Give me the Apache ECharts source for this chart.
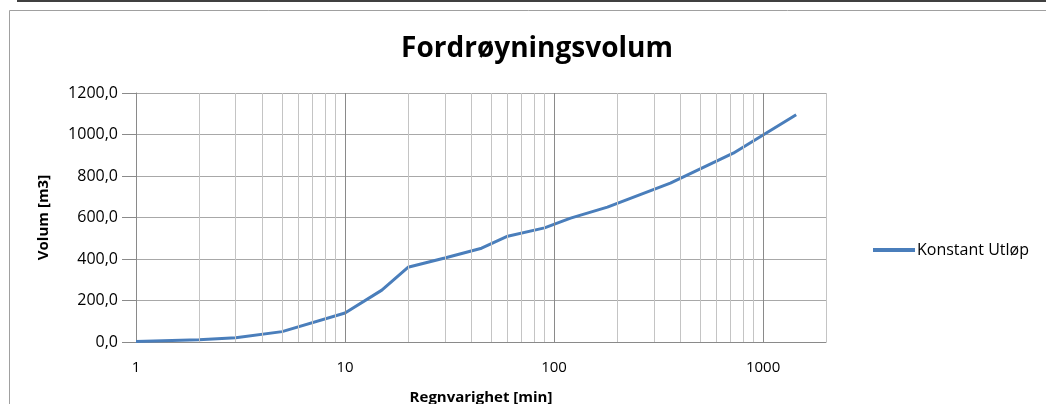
<!DOCTYPE html>
<html>
<head>
<meta charset="utf-8">
<script src="https://cdn.jsdelivr.net/npm/echarts@6/dist/echarts.min.js"></script>
<style>
html,body{margin:0;padding:0;background:#fff;}
#c{width:1046px;height:404px;}
</style>
</head>
<body>
<div id="c"></div>
<script>
const titleText = 'Fordrøyningsvolum';
const seriesName = 'Konstant Utløp';
const xAxisName = 'Regnvarighet [min]';
const yAxisName = 'Volum [m3]';
const durations = [1, 2, 3, 5, 10, 15, 20, 30, 45, 60, 90, 120, 180, 360, 720, 1440];
const volumes   = [3, 11, 21, 50, 140, 250, 360, 405, 452, 510, 550, 597, 650, 766, 910, 1095];
const xMajorTicks = [1, 10, 100, 1000];
const xMinorGrid = [2,3,4,5,6,7,8,9,20,30,40,50,60,70,80,90,200,300,400,500,600,700,800,900,2000];
const yMin = 0, yMax = 1200, yStep = 200;
const xMin = 1, xMax = 2000;

const font = '"Open Sans", "Noto Sans", sans-serif';
const chart = echarts.init(document.getElementById('c'), null, {renderer: 'canvas'});

const gridLines = [];
xMinorGrid.forEach(v => gridLines.push({xAxis: v, lineStyle: {color: '#c4c4c4', width: 1, type: 'solid'}}));
xMajorTicks.slice(1).forEach(v => gridLines.push({xAxis: v, lineStyle: {color: '#8a8a8a', width: 1, type: 'solid'}}));

chart.setOption({
  animation: false,
  backgroundColor: '#ffffff',
  textStyle: {fontFamily: font},
  title: {
    text: titleText,
    left: 532, top: 30, textAlign: 'center',
    textStyle: {fontFamily: font, fontSize: 28, fontWeight: 'bold', color: '#000'}
  },
  legend: {
    left: 873, top: 242, orient: 'vertical', padding: 0,
    icon: 'rect', itemWidth: 42, itemHeight: 4,
    textStyle: {fontFamily: font, fontSize: 16, color: '#000', padding: [0, 0, 0, -3]},
    data: [seriesName]
  },
  grid: {left: 136, right: 220, top: 93, bottom: 62, containLabel: false, outerBoundsMode: 'none'},
  xAxis: {
    type: 'log', logBase: 10, min: xMin, max: xMax,
    name: xAxisName, nameLocation: 'middle', nameGap: 48,
    nameTextStyle: {fontFamily: font, fontSize: 15, fontWeight: 'bold', color: '#000'},
    axisLine: {show: true, lineStyle: {color: '#8a8a8a', width: 1}},
    axisTick: {show: false},
    splitLine: {show: false},
    axisLabel: {
      fontFamily: font, fontSize: 15, color: '#000', margin: 18,
      formatter: v => { const r = Math.round(v); return xMajorTicks.includes(r) ? String(r) : ''; }
    }
  },
  yAxis: {
    type: 'value', min: yMin, max: yMax, interval: yStep,
    name: yAxisName, nameLocation: 'middle', nameGap: 85,
    nameTextStyle: {fontFamily: font, fontSize: 15, fontWeight: 'bold', color: '#000'},
    axisLine: {show: true, lineStyle: {color: '#8a8a8a', width: 1}},
    axisTick: {show: true, length: 14, lineStyle: {color: '#8a8a8a'}},
    splitLine: {show: true, lineStyle: {color: '#a8a8a8', width: 1}},
    axisLabel: {
      fontFamily: font, fontSize: 16, color: '#000', margin: 18,
      formatter: v => v.toFixed(1).replace('.', ',')
    }
  },
  series: [
    {
      name: '_grid', type: 'line', z: 1, silent: true,
      data: [[durations[0], volumes[0]]],
      showSymbol: false, lineStyle: {opacity: 0}, legendHoverLink: false,
      markLine: {silent: true, symbol: ['none', 'none'], label: {show: false}, animation: false, data: gridLines}
    },
    {
      name: seriesName, type: 'line', z: 3,
      data: durations.map((d, i) => [d, volumes[i]]),
      showSymbol: false, symbol: 'none',
      lineStyle: {color: '#4a7ebb', width: 3},
      itemStyle: {color: '#4a7ebb'}
    }
  ],
  graphic: [
    {type: 'rect', shape: {x: 9.5, y: 10.5, width: 1100, height: 500}, style: {fill: 'none', stroke: '#a0a0a0', lineWidth: 1}, silent: true},
    {type: 'line', shape: {x1: 17, y1: 1, x2: 1046, y2: 1}, style: {stroke: '#404040', lineWidth: 2}, silent: true},
    {type: 'line', shape: {x1: 17.5, y1: 0, x2: 17.5, y2: 2}, style: {stroke: '#404040', lineWidth: 1}, silent: true},
    {type: 'line', shape: {x1: 758.5, y1: 0, x2: 758.5, y2: 2}, style: {stroke: '#404040', lineWidth: 1}, silent: true}
  ]
});
</script>
</body>
</html>
